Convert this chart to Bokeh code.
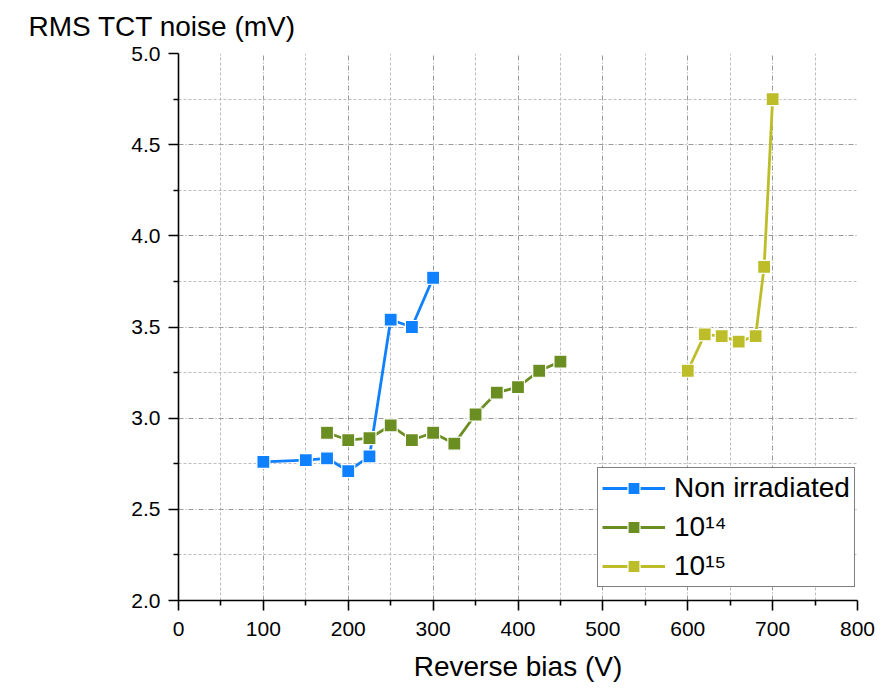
from bokeh.plotting import figure
from bokeh.models import Range1d, FixedTicker, Legend, LegendItem, CustomJSTickFormatter
from bokeh.embed import file_html
from bokeh.resources import INLINE

# Data
x_non = [100, 150, 175, 200, 225, 250, 275, 300]
y_non = [2.76, 2.77, 2.78, 2.71, 2.79, 3.54, 3.50, 3.77]

x_e14 = [175, 200, 225, 250, 275, 300, 325, 350, 375, 400, 425, 450]
y_e14 = [2.92, 2.88, 2.89, 2.96, 2.88, 2.92, 2.86, 3.02, 3.14, 3.17, 3.26, 3.31]

x_e15 = [600, 620, 640, 660, 680, 690, 700]
y_e15 = [3.26, 3.46, 3.45, 3.42, 3.45, 3.83, 4.75]

labels = ["Non irradiated", "10\u00b9\u2074", "10\u00b9\u2075"]
colors = ["#0F80FF", "#6B8E23", "#BDBD2A"]
y_title = "RMS TCT noise (mV)"

x_major = [0, 100, 200, 300, 400, 500, 600, 700, 800]
x_minor = [50, 150, 250, 350, 450, 550, 650, 750]
y_major = [2.0, 2.5, 3.0, 3.5, 4.0, 4.5, 5.0]
y_minor = [2.25, 2.75, 3.25, 3.75, 4.25, 4.75]

FONT = "Liberation Sans"

p = figure(width=888, height=688, output_backend="svg", toolbar_location=None,
           x_range=Range1d(0, 800), y_range=Range1d(2.0, 5.0),
           min_border_left=178, min_border_right=31, min_border_top=53, min_border_bottom=88)
p.outline_line_color = None
p.background_fill_color = "white"

p.title.text = y_title
p.title.text_font = FONT
p.title.text_font_size = "28px"
p.title.text_font_style = "normal"
p.title.text_color = "black"
p.title.align = "left"
p.title.vertical_align = "top"
p.title.offset = -150
p.title.standoff = 19

for ax in (p.xaxis[0], p.yaxis[0]):
    ax.axis_line_width = 1.6
    ax.axis_line_color = "black"
    ax.major_tick_line_width = 1.6
    ax.minor_tick_line_width = 1.6
    ax.major_tick_out = 10
    ax.major_tick_in = 0
    ax.minor_tick_out = 5
    ax.minor_tick_in = 0
    ax.major_label_text_font = FONT
    ax.major_label_text_font_size = "21px"
    ax.major_label_text_color = "black"
    ax.axis_label_text_font = FONT
    ax.axis_label_text_font_size = "28px"
    ax.axis_label_text_font_style = "normal"
    ax.axis_label_text_color = "black"

p.xaxis[0].ticker = FixedTicker(ticks=x_major, minor_ticks=x_minor)
p.yaxis[0].ticker = FixedTicker(ticks=y_major, minor_ticks=y_minor)
p.yaxis[0].formatter = CustomJSTickFormatter(code="return tick.toFixed(1);")
p.xaxis[0].axis_label = "Reverse bias (V)"
p.xaxis[0].axis_label_standoff = 12
p.xaxis[0].major_label_standoff = 11
p.yaxis[0].major_label_standoff = 8

for g in (p.xgrid[0], p.ygrid[0]):
    g.grid_line_color = "#9A9A9A"
    g.grid_line_dash = "5 2 1 2"
    g.grid_line_width = 1
    g.minor_grid_line_color = "#BDBDBD"
    g.minor_grid_line_dash = "3 2"
    g.minor_grid_line_width = 1

items = []
for xs, ys, c, lab in zip([x_non, x_e14, x_e15], [y_non, y_e14, y_e15], colors, labels):
    r1 = p.line(xs, ys, line_color=c, line_width=2.8)
    r2 = p.scatter(xs, ys, marker="square", size=13, fill_color=c,
                   line_color="white", line_width=1.2)
    items.append(LegendItem(label=lab, renderers=[r1, r2]))

legend = Legend(items=items, location=(419, 13))
legend.label_text_font = FONT
legend.label_text_font_size = "28px"
legend.label_text_color = "black"
legend.glyph_width = 63
legend.glyph_height = 30
legend.label_height = 30
legend.spacing = 7
legend.padding = 4
legend.margin = 0
legend.label_standoff = 9
legend.border_line_color = "black"
legend.border_line_width = 1.2
legend.background_fill_alpha = 1.0
p.add_layout(legend, "center")

open("out.html", "w").write(file_html(p, INLINE))
